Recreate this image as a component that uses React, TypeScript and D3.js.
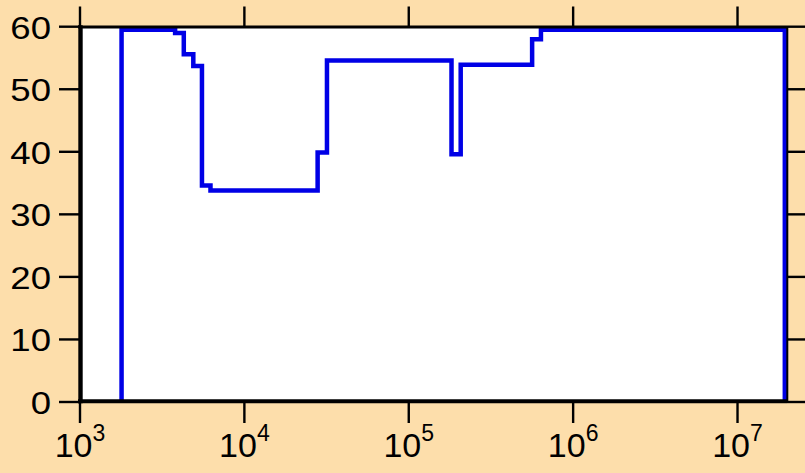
import React from "react";
import * as d3 from "d3";

// step curve (x is log scaled)
const stepX = [1790, 1790, 3790, 4280, 4890, 5520, 6220, 27900, 31800, 182000, 207000, 563000, 637000, 19400000];
const stepY = [0, 59.5, 59.0, 55.6, 53.7, 34.6, 33.8, 39.9, 54.6, 39.6, 53.9, 58.0, 59.5, 0];

const xTicks = [1e3, 1e4, 1e5, 1e6, 1e7];
const xTickExp = ["3", "4", "5", "6", "7"];
const yTicks = [0, 10, 20, 30, 40, 50, 60];

const W = 805;
const H = 473;
const margin = { left: 80, right: 787, top: 26.7, bottom: 402 };

const App = () => {
  const x = d3.scaleLog().domain([1e3, 2e7]).range([margin.left, margin.right]);
  const y = d3.scaleLinear().domain([0, 60]).range([margin.bottom, margin.top]);

  const pts: [number, number][] = stepX.map((v, i) => [v, stepY[i]]);
  const line = d3
    .line<[number, number]>()
    .x((d) => x(d[0]))
    .y((d) => y(d[1]))
    .curve(d3.curveStepAfter);

  const font = "'Liberation Sans', Arial, sans-serif";

  return (
    <div style={{ position: "absolute", left: 0, top: 0 }}>
      <svg width={W} height={H} style={{ display: "block" }}>
        <rect x={0} y={0} width={W} height={H} fill="#FDDEAB" />
        <rect
          x={margin.left}
          y={margin.top}
          width={margin.right - margin.left}
          height={margin.bottom - margin.top}
          fill="#ffffff"
        />
        <path
          d={line(pts) || ""}
          fill="none"
          stroke="#0000E6"
          strokeWidth={4.5}
          strokeLinejoin="miter"
        />

        {/* frame */}
        <line x1={margin.left - 2} x2={margin.right} y1={margin.top + 0.3} y2={margin.top + 0.3} stroke="#000" strokeWidth={3.2} />
        <line x1={margin.right + 0.3} x2={margin.right + 0.3} y1={margin.top} y2={margin.bottom + 1} stroke="#000" strokeWidth={2} />
        <line x1={margin.left - 2} x2={margin.right} y1={margin.bottom - 0.7} y2={margin.bottom - 0.7} stroke="#000" strokeWidth={4} />
        <line x1={margin.left + 0.5} x2={margin.left + 0.5} y1={margin.top - 1.5} y2={margin.bottom + 1.3} stroke="#000" strokeWidth={4.4} />

        {/* y ticks left + right */}
        {yTicks.map((t) => (
          <g key={"y" + t}>
            <line x1={59} x2={margin.left} y1={y(t)} y2={y(t)} stroke="#000" strokeWidth={2.4} />
            <line x1={margin.right} x2={W} y1={y(t)} y2={y(t)} stroke="#000" strokeWidth={2.4} />
            <text
              transform={`translate(51,${y(t) + 11.8}) scale(1.18,1)`}
              textAnchor="end"
              fontFamily={font}
              fontSize={31}
              fill="#000"
            >
              {t}
            </text>
          </g>
        ))}

        {/* x ticks bottom + top */}
        {xTicks.map((t, i) => (
          <g key={"x" + t}>
            <line x1={x(t)} x2={x(t)} y1={margin.bottom} y2={423} stroke="#000" strokeWidth={2.4} />
            <line x1={x(t)} x2={x(t)} y1={6.5} y2={margin.top} stroke="#000" strokeWidth={2.4} />
            <text x={x(t)} y={456.7} textAnchor="middle" fontFamily={font} fontSize={34} fill="#000">
              10
              <tspan fontSize={23} dy={-16}>
                {xTickExp[i]}
              </tspan>
            </text>
          </g>
        ))}
      </svg>
    </div>
  );
};

export default App;
